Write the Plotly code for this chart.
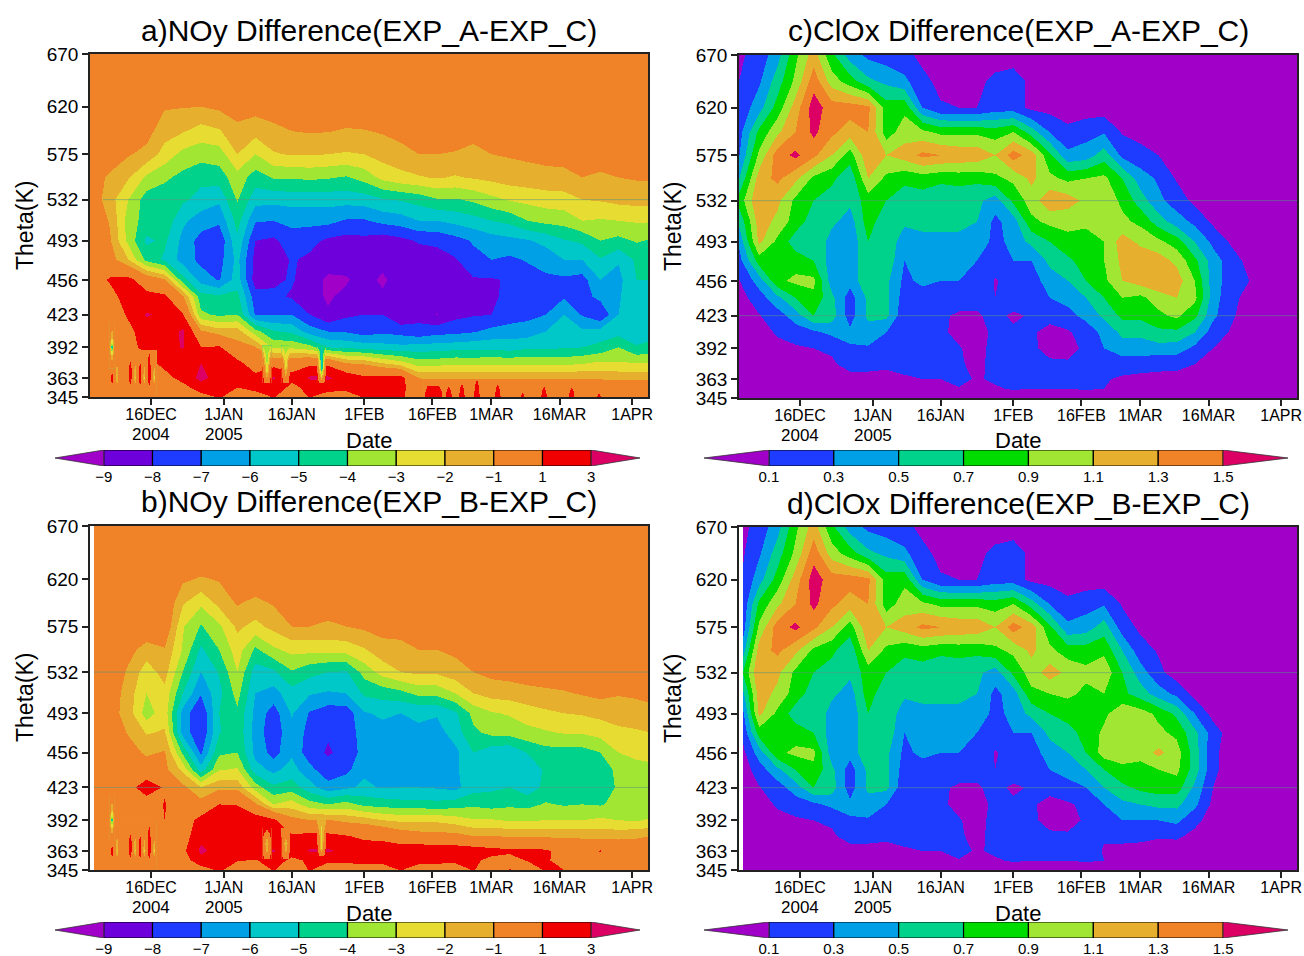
import plotly.graph_objects as go

dates = ["2004-12-02","2004-12-07","2004-12-11","2004-12-15","2004-12-19","2004-12-23","2004-12-27","2004-12-31",
         "2005-01-04","2005-01-08","2005-01-12","2005-01-16","2005-01-20","2005-01-24","2005-01-28","2005-02-01",
         "2005-02-05","2005-02-09","2005-02-13","2005-02-17","2005-02-21","2005-02-25","2005-03-01","2005-03-05",
         "2005-03-09","2005-03-13","2005-03-17","2005-03-21","2005-03-25","2005-03-29","2005-04-02","2005-04-05"]
dates_late = ["2004-12-03T10:00"] + dates[1:]
theta = [345,354,363,377,392,407,423,440,456,475,493,512,532,553,575,597,620,645,670]

noy_a = [
[0,0,0,0,0,0,0,1.2,0,0, 1.1,0,1.1,0,0,1.2,1.1,1.3,0,0, 0,0,0,0,0,0,0,0,0,0, 0,0],
[0,0,0,0,0,0,2.4,2.0,1.0,1.7, 2.2,.5,1.6,1.8,1.6,1.5,1.5,1.4,0,0, 0,0,0,0,0,0,0,0,0,0, 0,0],
[0,0,0,0,0,2,3.4,2.4,1.4,1.5, 3.2,1.5,3.3,3.3,2.2,1.3,1.6,1.6,-1.05,-1.1, -1.1,-1.1,-1.1,-1.1,-1.1,-1.1,-1.1,-1.1,-1.2,-1.3, -1.3,-1.2],
[0,0,0,0,1.8,1.5,3,2.2,1.5,0, .2,.2,.5,.5,-1,-1.2,-2,-2.6,-3.5,-3.4, -3.2,-3.3,-3.2,-3.2,-3.2,-3.2,-3.3,-3.1,-2.8,-2.9, -3,-3],
[0,0,.1,1.8,2,3.2,1.0,1.2,-.6,-.9, -3.2,-3.2,-3.6,-5,-5.2,-5.4,-5.6,-5.7,-5.6,-5.5, -5.4,-5.3,-5.3,-5.5,-5.2,-5.2,-5.1,-5,-4.7,-4, -4.9,-4.6],
[0,0,.6,1.8,1.9,3.3,-.8,-1.5,-1.5,-3.6, -4.9,-5.2,-6.5,-7,-7.1,-7.5,-7.2,-7.4,-7.7,-7.4, -7.3,-7.1,-6.7,-6.5,-6.5,-6,-5.6,-5.8,-5.6,-5.4, -5.6,-5.6],
[0,0,1.2,3.2,2.6,1.1,-3.8,-4.2,-4,-7.1, -7.1,-7,-8,-8.9,-8.2,-8,-8,-8.9,-8.3,-9.05, -8.3,-8.1,-8,-7.6,-7.3,-7,-6,-7.1,-7.9,-6, -5.8,-5.5],
[0,.4,1.8,1.5,1.3,-.8,-4.6,-4.8,-4.7,-7.6, -7.8,-8.1,-8.7,-9.1,-8.8,-8.6,-8.8,-8.8,-8.5,-8.6, -8.3,-8,-8.2,-7.7,-7.4,-7.2,-7.1,-7.4,-6.7,-6.1, -5.4,-5.4],
[0,1.2,1.5,0,-.9,-4.6,-6.4,-7.1,-5.5,-8.5, -8.2,-7.9,-8.5,-9.2,-9.1,-8.6,-9.2,-8.5,-8.5,-8.4, -8.2,-8.1,-8.1,-7.9,-7.5,-7.2,-7.2,-7.4,-6,-6.3, -5,-5],
[0,-.5,-2,-4.3,-5.2,-6.4,-7.3,-7.4,-5.7,-8.4, -8.6,-7.9,-8.2,-8.5,-8.6,-8.6,-8.6,-8.6,-8.5,-8.4, -8.1,-7.3,-7,-7.2,-6.9,-6.6,-6,-6,-5.1,-5.9, -4.8,-4.7],
[0,-.9,-3.3,-5.2,-4.8,-6.3,-7.4,-7.8,-5.2,-8, -8.2,-7.5,-7.7,-8.2,-8.4,-8.3,-8.6,-8.3,-7.9,-7.8, -7.4,-6.9,-6.5,-6.3,-6.1,-5.7,-5.1,-4.8,-4,-4.3, -3.9,-4.1],
[0,-1.1,-3.5,-4.4,-4.3,-5.8,-6.5,-6.8,-4.6,-6.9, -7,-6.7,-6.7,-6.7,-7.1,-7.1,-6.7,-6.5,-6,-6, -5.7,-5.4,-5,-4.7,-4,-3.7,-3.6,-3,-3.1,-3, -2.9,-2.9],
[0,-1.6,-3,-4.5,-4.6,-4.8,-5.4,-5.8,-3.9,-5.6, -5.7,-5.6,-5.6,-5.6,-5.6,-5.5,-5.1,-4.9,-4.6,-4.1, -4.1,-3.8,-3.3,-2.9,-2.7,-2.5,-2.4,-2,-1.9,-1.7, -1.6,-1.6],
[0,-1.3,-1.9,-3.2,-3.8,-4.3,-4.7,-4.5,-3.4,-4.5, -3.9,-3.9,-3.8,-3.9,-4.1,-3.6,-2.7,-2.3,-2.1,-1.9, -2.1,-1.9,-1.7,-1.5,-1.4,-1.3,-1.3,-1,-1.2,-1, -.9,-.9],
[0,0,-.9,-1.3,-2.4,-3.3,-3.6,-3.5,-2,-3, -2.1,-1.9,-1.9,-2,-2.1,-2,-1.6,-1.4,-1,-1, -1.1,-1.4,-1,-.9,-.8,-.7,-.6,-.3,-.4,-.4, -.3,-.3],
[0,0,0,-.6,-1.6,-1.9,-2.4,-2.1,-1.3,-1.6, -1.3,-1,-.9,-.95,-1.1,-1.05,-.9,-.6,-.3,-.3, -.3,-.5,-.3,-.2,0,0,0,0,0,0, 0,0],
[0,0,0,0,-.9,-.95,-1,-.8,-.5,-.6, -.4,-.2,-.2,-.2,-.3,-.2,-.1,0,0,0, 0,0,0,0,0,0,0,0,0,0, 0,0],
[0]*32,
[0]*32,
]

noy_b = [
[0,0,0,0,0,0,0,1.3,0,0, 1.1,0,1.1,0,0,0,0,1.1,0,0, 0,1.1,0,1.1,0,1.2,1,0,0,0, 0,0],
[0,0,0,0,0,0,2.3,1.6,1.1,.9, 1.6,.7,1.2,1.3,1.4,1.6,1.6,1.5,1.6,1.5, 1.4,1.3,.6,.4,1.1,1.2,.4,.2,.5,0, 0,0],
[0,0,0,0,0,.5,3.4,2.3,2,2, 3.2,1.6,3.2,3.3,2.4,1.8,2,2,2.2,2.1, 2,1.8,1.5,1.3,1.4,1.2,.5,0,1.1,0, 0,0],
[0,0,0,0,0,0,2.5,2.2,2.1,1.6, 1.5,1.2,1.5,1.4,1.1,.7,.5,-.2,-.5,-.6, -.6,-1,-1,-1.1,-1.1,-1.2,-1.2,-1.2,-1.4,-1.3, -1.2,-1],
[0,0,0,0,1,0,1.6,2.2,2.4,2, 1.3,-.6,-1,-.9,-1.3,-1.5,-2,-2.2,-2.2,-2.2, -2.5,-2.9,-2.9,-3.1,-3.1,-3,-3,-3,-2.8,-3, -3.1,-2.9],
[0,0,0,0,1.1,-.1,-.5,1,.9,-.8, -3,-2.5,-3.6,-4,-3.6,-4.3,-4.4,-4.6,-4.6,-4.7, -4.5,-4.2,-4.4,-4.2,-4.3,-3.9,-4.1,-4,-4.1,-3.7, -3.5,-3.5],
[0,0,.3,2,.8,-.7,-2,-1.3,-1.3,-3.5, -4.8,-4.5,-5.6,-6.6,-6.2,-5.8,-6.1,-6,-6,-6.1, -6.3,-5.4,-5.2,-5,-5.6,-4.7,-4.6,-4.5,-4.4,-3.9, -3.5,-3.5],
[0,0,0,-.3,-.7,-2.3,-5.6,-3.1,-2.9,-5.6, -6.3,-5.6,-6.7,-7.7,-7.3,-6.2,-6.8,-6.8,-6.7,-6.7, -6.1,-5.6,-5.7,-5.4,-5.8,-4.8,-4.6,-4.5,-4.4,-3.8, -3.4,-3.3],
[0,0,-.5,-1.2,-.9,-4.2,-7.2,-4.2,-4,-6.3, -7.4,-6.2,-7.6,-8.1,-7.7,-6.6,-7,-6.7,-6.6,-6.7, -6.3,-5,-5.6,-5.8,-4.9,-4.4,-4.4,-4.4,-4,-3, -2.7,-2.6],
[0,-.2,-1.1,-2.1,-1.9,-6.4,-7.9,-5.1,-4.3,-6.4, -7.7,-6.2,-7.4,-7.9,-7.7,-6.4,-6.4,-6.3,-6.1,-6.4, -5.5,-4.2,-3.7,-3.6,-3.3,-3.1,-2.9,-2.9,-2.6,-2.2, -2.1,-2],
[0,-.5,-1.5,-3.5,-2.4,-6.4,-8,-5,-4.2,-6.3, -7.5,-5.9,-7.1,-7.6,-7.6,-6.1,-5.8,-6,-5.9,-5.9, -5.2,-3.7,-3.1,-2.9,-2.5,-2.2,-2,-1.9,-1.7,-1.6, -1.5,-1.4],
[0,-.3,-1.5,-3,-2.3,-5,-6.9,-5.3,-3.6,-6, -6.4,-5.4,-5.9,-6.1,-6,-4.8,-4.6,-4.3,-3.7,-3.7, -3,-2,-1.6,-1.5,-1.3,-1.2,-1.1,-.9,-.7,-.9, -.8,-.6],
[0,0,-1.2,-2.5,-1.6,-4,-6,-4.9,-3,-5.5, -5.2,-4.1,-4.7,-5,-5.1,-3.6,-2.6,-2,-1.8,-1.8, -1.4,-1,-.7,-.6,-.5,-.4,-.3,-.3,-.2,-.3, -.2,-.2],
[0,0,-.6,-1.5,-1.1,-3.1,-5.2,-4,-2.5,-4.2, -3.2,-2.7,-2.7,-2.7,-2.6,-2.1,-1.4,-1.3,-1,-1, -.8,-.5,-.3,-.2,0,0,0,0,0,0, 0,0],
[0,0,0,0,0,-2.9,-4.1,-3.2,-1.8,-2.3, -1.7,-1,-1,-1.1,-1,-.8,-.6,-.6,-.4,-.3, -.2,0,0,0,0,0,0,0,0,0, 0,0],
[0,0,0,0,0,-1.9,-2.8,-1.7,-.9,-1.3, -.9,-.7,-.7,-.7,-.7,-.5,-.3,-.2,0,0, 0,0,0,0,0,0,0,0,0,0, 0,0],
[0,0,0,0,0,-.8,-1.1,-.9,-.1,-.2, 0,0,0,0,0,0,0,0,0,0, 0,0,0,0,0,0,0,0,0,0, 0,0],
[0]*32,
[0]*32,
]

clox_c = [
[0]*32,
[0,0,0,0,0,0,0,0,0,.02, .05,.05,.09,.07,.08,.12,.1,.1,.1,.12, .1,.03,0,0,0,0,0,0,0,0, 0,0],
[0,0,0,0,0,0,.05,.05,.05,.08, .1,.1,.15,.08,.13,.13,.12,.15,.15,.25, .12,.07,.05,.05,.04,0,0,0,0,0, 0,0],
[0,0,0,0,.02,.08,.15,.15,.13,.15, .12,.13,.12,.06,.15,.15,.13,.13,.12,.13, .15,.2,.18,.15,.15,.1,.02,0,0,0, 0,0],
[0,0,.05,.07,.1,.12,.28,.28,.25,.15, .13,.13,.11,.05,.15,.15,.13,.05,.05,.13, .3,.4,.4,.42,.4,.25,.1,0,0,0, 0,0],
[0,.03,.12,.2,.25,.35,.35,.4,.3,.12, .12,.12,.07,.05,.13,.13,.12,.05,.07,.2, .35,.55,.55,.65,.65,.5,.2,.08,0,0, 0,0],
[0,.09,.2,.4,.7,.6,.2,.55,.55,.15, .15,.13,.07,.08,.15,.07,.12,.15,.25,.35, .55,.75,.75,.85,.95,.75,.35,.13,0,0, 0,0],
[0,.2,.45,.7,.85,.55,.2,.55,.55,.2, .2,.25,.2,.15,.1,.2,.15,.3,.35,.5, .7,.9,.85,1.0,1.1,.95,.4,.15,.04,0, 0,0],
[.05,.4,.85,.95,.95,.4,.38,.65,.55,.25, .35,.3,.3,.2,.09,.15,.2,.4,.5,.7, .85,1.1,1.2,1.28,1.2,.9,.4,.2,.1,0, 0,0],
[.15,.8,.75,.8,.7,.4,.35,.7,.65,.3, .35,.4,.35,.3,.15,.3,.3,.55,.65,.8, .9,1.15,1.25,1.2,1.05,.75,.4,.2,.03,0, 0,0],
[.25,1.15,.85,.6,.7,.4,.35,.7,.7,.35, .45,.45,.45,.5,.2,.4,.55,.7,.85,.8, .9,1.2,1.05,.95,.8,.5,.25,.07,0,0, 0,0],
[.45,1.2,1.05,.8,.6,.55,.4,.8,.55,.55, .55,.55,.55,.5,.25,.4,.85,.95,.95,.95, .95,.95,.85,.6,.4,.25,.06,0,0,0, 0,0],
[.7,1.3,1.15,.85,.7,.6,.55,.8,.7,.6, .6,.55,.55,.55,.4,.75,1,1.25,1.2,1.05, 1.05,.85,.6,.35,.2,.05,0,0,0,0, 0,0],
[.4,1.2,1.35,1.15,.85,.75,.55,1.1,.85,.75, .8,.75,.78,.75,.85,.95,1.15,.95,.85,.9, .95,.7,.4,.27,.08,0,0,0,0,0, 0,0],
[.2,.95,1.4,1.55,1.35,1.1,.8,1.25,1.1,1.2, 1.35,1.3,1.25,1.25,1.1,1.4,1.2,.75,.35,.4, .6,.25,.17,.1,0,0,0,0,0,0, 0,0],
[.15,.75,1.05,1.3,1.55,1.35,1.2,1.3,.8,1, .95,.85,.85,.85,.8,.9,.6,.3,.15,.22, .28,.08,.03,0,0,0,0,0,0,0, 0,0],
[.12,.42,.78,1.2,1.6,1.4,1.4,1.35,.8,.85, .3,.12,.1,.1,.2,.2,.05,.03,0,0, 0,0,0,0,0,0,0,0,0,0, 0,0],
[.08,.27,.6,.95,1.42,1,.8,.55,.45,.35, .15,.05,.05,.05,.15,.2,.05,0,0,0, 0,0,0,0,0,0,0,0,0,0, 0,0],
[.05,.18,.42,.85,1.2,.75,.4,.25,.2,.15, .05,0,0,0,0,0,0,0,0,0, 0,0,0,0,0,0,0,0,0,0, 0,0],
]

clox_d = [
[0]*32,
[0,0,0,0,0,0,0,0,0,.02, .05,.05,.09,.07,.08,.12,.1,.1,.1,.12, .1,.03,0,0,0,0,0,0,0,0, 0,0],
[0,0,0,0,0,0,.05,.05,.05,.08, .1,.1,.15,.08,.13,.13,.12,.15,.12,.22, .08,.05,.03,0,0,0,0,0,0,0, 0,0],
[0,0,0,0,.02,.08,.15,.15,.13,.15, .12,.13,.12,.06,.15,.15,.13,.13,.12,.13, .12,.15,.15,.12,.13,.05,0,0,0,0, 0,0],
[0,0,.05,.07,.1,.12,.28,.28,.25,.15, .13,.13,.11,.05,.15,.15,.13,.05,.05,.12, .25,.3,.3,.3,.35,.15,.02,0,0,0, 0,0],
[0,.03,.12,.2,.25,.35,.35,.4,.3,.12, .12,.12,.07,.05,.13,.13,.12,.05,.07,.15, .3,.45,.5,.55,.55,.35,.05,0,0,0, 0,0],
[0,.09,.2,.4,.7,.6,.2,.55,.55,.15, .15,.13,.07,.08,.15,.07,.12,.15,.25,.3, .5,.65,.75,.8,.8,.45,.1,0,0,0, 0,0],
[0,.2,.45,.7,.85,.55,.2,.55,.55,.2, .2,.25,.2,.15,.1,.2,.15,.3,.35,.5, .7,.85,.8,.9,.95,.6,.15,0,0,0, 0,0],
[.05,.4,.85,.95,.95,.4,.38,.65,.55,.25, .35,.3,.3,.2,.09,.15,.2,.4,.5,.7, 1.0,1.0,1.0,1.15,1.0,.6,.15,0,0,0, 0,0],
[.15,.8,.75,.8,.7,.4,.35,.7,.65,.3, .35,.4,.35,.3,.15,.3,.3,.55,.65,.75, .95,1.05,1.0,.95,.85,.55,.2,0,0,0, 0,0],
[.25,1.15,.85,.6,.7,.4,.35,.7,.7,.35, .45,.45,.45,.5,.2,.4,.55,.7,.75,.8, .85,1.05,1.0,.85,.65,.3,.03,0,0,0, 0,0],
[.45,1.2,1.05,.8,.6,.55,.4,.8,.55,.55, .55,.55,.55,.5,.25,.4,.85,.9,.95,.85, .9,.75,.6,.4,.25,.03,0,0,0,0, 0,0],
[.7,1.3,1.15,.85,.7,.6,.55,.8,.7,.6, .6,.55,.55,.55,.4,.75,1,1.2,1.05,.95, 1.05,.7,.4,.15,0,0,0,0,0,0, 0,0],
[.4,1.2,1.35,1.15,.85,.75,.55,1.1,.85,.75, .8,.75,.78,.75,.85,.95,1.15,.95,.8,.8, .85,.5,.18,.08,0,0,0,0,0,0, 0,0],
[.2,.95,1.4,1.55,1.35,1.1,.8,1.25,1.1,1.2, 1.35,1.3,1.25,1.25,1.1,1.4,1.2,.75,.35,.4, .6,.2,.06,0,0,0,0,0,0,0, 0,0],
[.15,.75,1.05,1.3,1.55,1.35,1.2,1.3,.8,1, .95,.85,.85,.85,.8,.9,.6,.3,.15,.22, .28,.08,.03,0,0,0,0,0,0,0, 0,0],
[.12,.42,.78,1.2,1.6,1.4,1.4,1.35,.8,.85, .3,.12,.1,.1,.2,.2,.05,.03,0,0, 0,0,0,0,0,0,0,0,0,0, 0,0],
[.08,.27,.6,.95,1.42,1,.8,.55,.45,.35, .15,.05,.05,.05,.15,.2,.05,0,0,0, 0,0,0,0,0,0,0,0,0,0, 0,0],
[.05,.18,.42,.85,1.2,.75,.4,.25,.2,.15, .05,0,0,0,0,0,0,0,0,0, 0,0,0,0,0,0,0,0,0,0, 0,0],
]

# narrow spikes low on the left of both NOy panels (same in a and b), read on a finer grid
spike_dates = ["2004-12-06T21:36","2004-12-07T09:36","2004-12-07T22:48","2004-12-08T12:00","2004-12-09T01:12",
               "2004-12-10T21:36","2004-12-11T09:36","2004-12-11T22:48","2004-12-12T12:00","2004-12-13T01:12",
               "2004-12-13T14:24","2004-12-14T01:12","2004-12-14T12:00","2004-12-15T01:12","2004-12-15T14:24",
               "2004-12-16T03:36","2004-12-16T16:48","2004-12-17T04:48"]
spike_theta = [345,351,363,372,382,390]
spike_z = [
[.3]*18,
[.3]*18,
[.3,2.0,.3,-2.6,.3, .3,2.2,.3,-2.4,.3, 2.2,.3,-2.4,.3,2.4,.3,-2.6,.3],
[.3,.3,.3,-1.6,.3, .3,1.8,.3,-1.5,.3, 1.6,.3,-1.3,.3,2.0,.3,-1.3,.3],
[.3,.3,.3,-.3,.3, .3,.8,.3,-.4,.3, .6,.3,-.3,.3,1.4,.3,.3,.3],
[.3,.3,.3,.3,.3, .3,.3,.3,.3,.3, .3,.3,.3,.3,.7,.3,.3,.3],
]
tall_dates = ["2004-12-06T20:00","2004-12-07T09:36","2004-12-07T23:00"]
tall_theta = [372,380,386,392,398,405,416]
tall_z = [[.3,.3,.3],[.3,-1.4,.3],[.3,-3,.3],[.3,-5.6,.3],[.3,-3,.3],[.3,-1.8,.3],[.3,.3,.3]]

# thin wedges reaching down from the band edge in January
wedge1_dates = ["2005-01-09T13:00","2005-01-10T13:00","2005-01-11T13:00"]
wedge2_dates = ["2005-01-13T17:00","2005-01-14T17:00","2005-01-15T17:00"]
wedge3_dates = ["2005-01-21T14:00","2005-01-22T14:00","2005-01-23T14:00"]
wedge_theta = [358,365,372,380,388,394]
wedge_b_theta = [355,362,370,378,385]
wedge_a1 = [[1.5,.3,1.5],[1.5,-1.8,1.5],[1.2,-3,1.2],[.3,-3.6,.3],[-1.5,-3.8,-1.5],[-3,-3.9,-3]]
wedge_a2 = [[1.5,.3,1.5],[1.5,-1.2,1.5],[1.2,-2.4,1.2],[.3,-2.8,.3],[-2,-3.2,-2],[-3.2,-3.3,-3.2]]
wedge_a3 = [[1.5,.3,1.5],[1.5,-2.5,1.5],[1.2,-5.3,1.2],[.2,-5.4,.2],[-2.5,-5.2,-2.5],[-4.4,-5,-4.4]]
wedge_b1 = [[1.3,.3,1.3],[1.5,-1.3,1.5],[1.5,-2.4,1.5],[1.5,-.5,1.5],[1.5,1.3,1.5]]
wedge_b2 = [[1.3,.3,1.3],[1.5,-1.3,1.5],[1.5,-2.4,1.5],[1.0,-.5,1.0],[.4,.4,.4]]
wedge_b3 = [[1.5,.3,1.5],[1.5,-2.2,1.5],[1.2,-2.6,1.2],[.5,-2.4,.5],[-.9,-2,-.9],[-1.1,-1.5,-1.1]]

# small red teeth along the floor of panel a
floor_dates = ["2005-02-14","2005-02-15","2005-02-17T09:36","2005-02-18T14:24","2005-02-19T14:24","2005-02-20T14:24",
               "2005-02-21T14:24","2005-02-22T12:00","2005-02-23T09:36","2005-02-24T21:36","2005-02-25T19:12","2005-02-26T16:48",
               "2005-03-01T12:00","2005-03-02T09:36","2005-03-03T07:12","2005-03-07","2005-03-07T21:36","2005-03-08T19:12",
               "2005-03-11T16:48","2005-03-12T14:24","2005-03-13T12:00","2005-03-17T19:12","2005-03-18T16:48","2005-03-19T14:24",
               "2005-03-23T19:12","2005-03-24T16:48","2005-03-25T14:24"]
floor_theta = [345,350,355,362]
floor_z = [
[.3,2.5,2.5,.3,2.5,.3,.3,2.5,.3,.3,2.5,.3,.3,2.5,.3,.3,1.6,.3,.3,2.5,.3,.3,2.5,.3,.3,1.6,.3],
[.3,1.8,1.8,.3,1.75,.3,.3,1.9,.3,.3,2.05,.3,.3,1.9,.3,.3,.9,.3,.3,1.75,.3,.3,1.7,.3,.3,.9,.3],
[.3,1.1,1.1,.3,1.0,.3,.3,1.3,.3,.3,1.6,.3,.3,1.3,.3,.3,.3,.3,.3,1.0,.3,.3,.8,.3,.3,.3,.3],
[.3,.3,.3,.3,.3,.3,.3,.3,.3,.3,1.0,.3,.3,.3,.3,.3,.3,.3,.3,.3,.3,.3,.3,.3,.3,.3,.3],
]

for name, g in (("a", noy_a), ("b", noy_b), ("c", clox_c), ("d", clox_d)):
    assert len(g) == len(theta), name
    for i, r in enumerate(g):
        assert len(r) == len(dates), (name, i, len(r))

x_tick_dates = ["2004-12-16","2005-01-01","2005-01-16","2005-02-01","2005-02-16","2005-03-01","2005-03-16","2005-04-01"]
x_tick_text = ["16DEC","1JAN","16JAN","1FEB","16FEB","1MAR","16MAR","1APR"]
year_labels = [("2004-12-16","2004"),("2005-01-01","2005")]
theta_ticks = [345,363,392,423,456,493,532,575,620,670]

noy_levels = ["\u22129","\u22128","\u22127","\u22126","\u22125","\u22124","\u22123","\u22122","\u22121","1","3"]
clox_levels = ["0.1","0.3","0.5","0.7","0.9","1.1","1.3","1.5"]
noy_colors = ["#A000C8","#6E00DC","#1E3CFF","#00A0E6","#00C8C8","#00D28C","#A0E632","#E6DC32","#E6AF2D","#F08228","#F00000","#DC0064"]
clox_colors = ["#A000C8","#1E3CFF","#00A0E6","#00D28C","#00DC00","#A0E632","#E6AF2D","#F08228","#DC0064"]

W, H = 1304, 956
FONT = "Liberation Sans"

# colours of each unit-wide contour band for the NOy panels (-1..1 and 1..3 are two bands each)
noy_band_colors = noy_colors[:10] + [noy_colors[9]] + [noy_colors[10], noy_colors[10]] + [noy_colors[11]]

def stepped(colors):
    n = len(colors) - 1
    return [[i / n, c] for i, c in enumerate(colors)]

def px_x(a, b):
    return [a / W, b / W]

def px_y(top, bottom):
    return [1 - bottom / H, 1 - top / H]

def ax(letter, k):
    return letter if k == 1 else f"{letter}{k}"

common_detail = [(spike_dates, spike_theta, spike_z), (tall_dates, tall_theta, tall_z)]
panels = [
    dict(title="a)NOy Difference(EXP_A-EXP_C)", z=noy_a, x=dates, kind="noy", box=(90, 648, 54, 397), lines=[532], line_from=0.023,
         cb=(55, 640, 450, 466), tx=369,
         detail=common_detail + [(wedge1_dates, wedge_theta, wedge_a1), (wedge2_dates, wedge_theta, wedge_a2),
                                 (wedge3_dates, wedge_theta, wedge_a3), (floor_dates, floor_theta, floor_z)]),
    dict(title="b)NOy Difference(EXP_B-EXP_C)", z=noy_b, x=dates_late, kind="noy", box=(90, 648, 526, 870), lines=[532, 423], line_from=0.007,
         cb=(55, 640, 922, 938), tx=369,
         detail=common_detail + [(wedge1_dates, wedge_b_theta, wedge_b1), (wedge2_dates, wedge_b_theta, wedge_b2),
                                 (wedge3_dates, wedge_theta, wedge_b3)]),
    dict(title="c)ClOx Difference(EXP_A-EXP_C)", z=clox_c, x=dates, kind="clox", box=(739, 1297, 55, 398), lines=[532, 423], line_from=0,
         cb=(704, 1288, 450, 466), tx=1018, detail=[]),
    dict(title="d)ClOx Difference(EXP_B-EXP_C)", z=clox_d, x=dates_late, kind="clox", box=(739, 1297, 527, 870), lines=[532, 423], line_from=0.007,
         cb=(704, 1288, 922, 938), tx=1018, detail=[]),
]

fig = go.Figure()
layout = dict(width=W, height=H, margin=dict(l=0, r=0, t=0, b=0), paper_bgcolor="white", plot_bgcolor="white",
              showlegend=False, font=dict(family=FONT, color="black"), annotations=[], shapes=[], barmode="overlay")

for i, p in enumerate(panels):
    k = 2 * i + 1
    ax_x, ax_y = ax("x", k), ax("y", k)
    L, R, T, B = p["box"]
    if p["kind"] == "noy":
        contours = dict(start=-9, end=3, size=1, coloring="fill", showlines=False)
        cs = stepped(noy_band_colors)
        levels, colors = noy_levels, noy_colors
    else:
        contours = dict(start=0.1, end=1.5001, size=0.2, coloring="fill", showlines=False)
        cs = stepped(clox_colors)
        levels, colors = clox_levels, clox_colors
    fig.add_trace(go.Contour(x=p["x"], y=theta, z=p["z"], contours=contours, colorscale=cs, showscale=False,
                             line=dict(width=0, smoothing=0), hoverinfo="skip", xaxis=ax_x, yaxis=ax_y))
    for xs, ys, zs in p["detail"]:
        fig.add_trace(go.Contour(x=xs, y=ys, z=zs, contours=contours, colorscale=cs, showscale=False,
                                 line=dict(width=0, smoothing=0), hoverinfo="skip", xaxis=ax_x, yaxis=ax_y))
    layout[f"xaxis{k}"] = dict(domain=px_x(L, R), anchor=ax_y, type="date", automargin=False,
                               range=["2004-12-02T13:00", "2005-04-04T12:00"],
                               tickmode="array", tickvals=x_tick_dates, ticktext=x_tick_text,
                               ticks="outside", ticklen=6, tickwidth=1.5, tickcolor="#222", ticklabelstandoff=-4,
                               tickfont=dict(size=16, family=FONT, color="black"),
                               showgrid=False, zeroline=False, showline=True, linecolor="#222", linewidth=1.5, mirror=True)
    layout[f"yaxis{k}"] = dict(domain=px_y(T, B), anchor=ax_x, range=[345, 670], automargin=False,
                               tickmode="array", tickvals=theta_ticks,
                               ticks="outside", ticklen=6, tickwidth=1.5, tickcolor="#222",
                               tickfont=dict(size=19, family=FONT, color="black"),
                               showgrid=False, zeroline=False, showline=True, linecolor="#222", linewidth=1.5, mirror=True)
    for lv in p["lines"]:
        layout["shapes"].append(dict(type="line", xref=f"{ax_x} domain", yref=ax_y, x0=p["line_from"], x1=1, y0=lv, y1=lv,
                                     line=dict(color="rgba(90,150,130,0.55)", width=1), layer="above"))
    cx = (L + R) / 2
    layout["annotations"].append(dict(text=p["title"], xref="paper", yref="paper", x=cx / W, y=1 - (T - 24) / H,
                                      showarrow=False, xanchor="center", yanchor="middle",
                                      font=dict(size=30, family=FONT, color="black")))
    layout["annotations"].append(dict(text="Theta(K)", xref="paper", yref="paper", x=25 / W if L < 500 else 673 / W,
                                      y=1 - (T + 172) / H, showarrow=False, textangle=-90,
                                      xanchor="center", yanchor="middle", font=dict(size=23, family=FONT, color="black")))
    layout["annotations"].append(dict(text="Date", xref="paper", yref="paper", x=p["tx"] / W, y=1 - (B + 43) / H,
                                      showarrow=False, xanchor="center", yanchor="middle",
                                      font=dict(size=22, family=FONT, color="black")))
    for d, txt in year_labels:
        layout["annotations"].append(dict(text=txt, xref=ax_x, yref="paper", x=d, y=1 - (B + 37) / H, showarrow=False,
                                          xanchor="center", yanchor="middle", font=dict(size=17, family=FONT, color="black")))

    # colour bar in its own small axes: one box per level interval, one triangle at each end
    k2 = 2 * i + 2
    bx, by = ax("x", k2), ax("y", k2)
    cL, cR, cT, cB = p["cb"]
    n = len(levels)
    inner = colors[1:-1]
    fig.add_trace(go.Bar(x=[1] * (n - 1), base=list(range(n - 1)), y=[0] * (n - 1), orientation="h", width=1,
                         marker=dict(color=inner, line=dict(color="black", width=1.2)), hoverinfo="skip",
                         xaxis=bx, yaxis=by))
    fig.add_trace(go.Scatter(x=[-1, 0, 0, -1], y=[0, .5, -.5, 0], fill="toself", fillcolor=colors[0], mode="lines",
                             line=dict(color="#333", width=0.8), hoverinfo="skip", xaxis=bx, yaxis=by))
    fig.add_trace(go.Scatter(x=[n, n - 1, n - 1, n], y=[0, .5, -.5, 0], fill="toself", fillcolor=colors[-1], mode="lines",
                             line=dict(color="#333", width=0.8), hoverinfo="skip", xaxis=bx, yaxis=by))
    layout[f"xaxis{k2}"] = dict(domain=px_x(cL, cR), anchor=by, range=[-1, n], tickmode="array", automargin=False,
                                tickvals=list(range(n)), ticktext=levels, ticks="", showgrid=False, zeroline=False,
                                showline=False, tickfont=dict(size=15, family=FONT, color="black"))
    layout[f"yaxis{k2}"] = dict(domain=px_y(cT, cB), anchor=bx, range=[-.5, .5], visible=False, automargin=False)

fig.update_layout(**layout)
crisp = ("document.body.style.margin='0';"
         "document.querySelectorAll('.contourfill path, .contourbg path, .contourlevel path')"
         ".forEach(function(p){p.style.shapeRendering='crispEdges';});")
fig.write_html("out.html", config=dict(displayModeBar=False), post_script=crisp)
